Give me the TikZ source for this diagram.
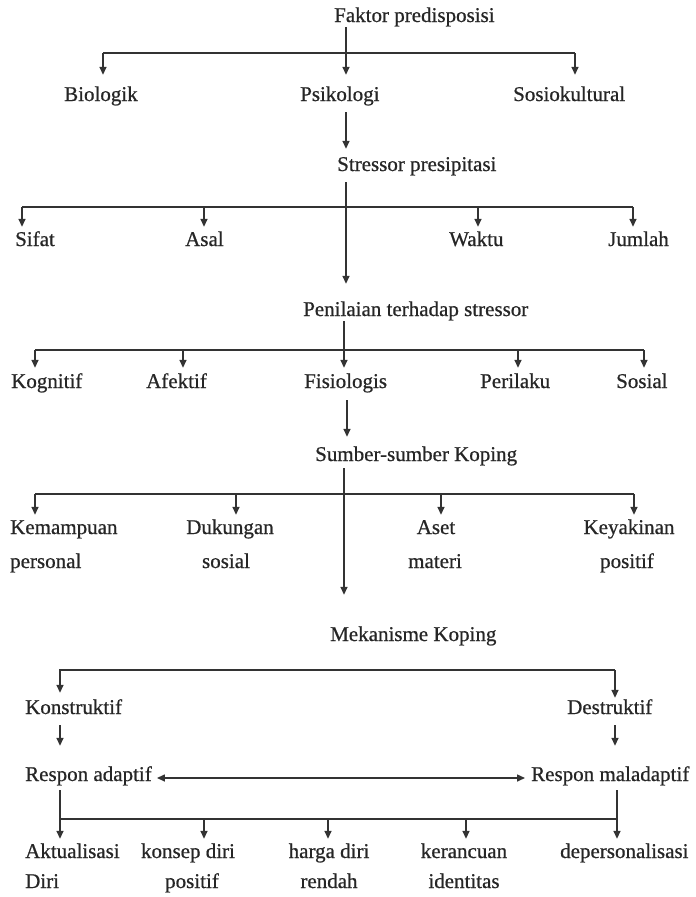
\documentclass[tikz,border=0pt]{standalone}
\usepackage{fontspec}
\setmainfont{Liberation Serif}[FakeBold=0.7]
\usetikzlibrary{arrows.meta}
\tikzset{
  lbl/.style={inner sep=0pt, anchor=base west, font=\fontsize{21}{25}\selectfont, text height=15pt, text depth=5pt, text=black!85},
  lblc/.style={lbl, anchor=base},
  ln/.style={line width=1.5pt, draw=black!80},
  arr/.style={ln, -{Triangle[length=8pt,width=7pt]}},
  darr/.style={ln, {Triangle[length=8pt,width=7pt]}-{Triangle[length=8pt,width=7pt]}},
}
\begin{document}
\begin{tikzpicture}[x=1pt,y=-1pt]
\useasboundingbox (0,0) rectangle (696,897);
% level 1
\node[lbl] (faktor) at (334,22) {Faktor predisposisi};
\node[lbl] (bio) at (64,101) {Biologik};
\node[lbl] (psi) at (300,101) {Psikologi};
\node[lbl] (sos) at (513,101) {Sosiokultural};
\coordinate (b1) at (346,53);
\coordinate (b1l) at (103,53);
\coordinate (b1r) at (575,53);
\draw[ln] (b1l) -- (b1r);
\draw[ln] (faktor.south -| b1) -- (b1);
\draw[arr, shorten >=11pt] (b1l) -- (b1l |- bio.north);
\draw[arr, shorten >=11pt] (b1) -- (b1 |- psi.north);
\draw[arr, shorten >=11pt] (b1r) -- (b1r |- sos.north);
% level 2
\node[lbl] (stres) at (337,171) {Stressor presipitasi};
\draw[arr, shorten <=6pt, shorten >=7pt] (psi.south -| b1) -- (stres.north -| b1);
\node[lbl] (sifat) at (15,246) {Sifat};
\node[lbl] (asal) at (185,246) {Asal};
\node[lbl] (waktu) at (449,246) {Waktu};
\node[lbl] (jumlah) at (608,246) {Jumlah};
\coordinate (b2) at (346,207);
\coordinate (b2a) at (22,207);
\coordinate (b2b) at (204,207);
\coordinate (b2c) at (478,207);
\coordinate (b2d) at (633,207);
\draw[ln] (b2a) -- (b2d);
\draw[arr, shorten >=4pt] (b2a) -- (b2a |- sifat.north);
\draw[arr, shorten >=4pt] (b2b) -- (b2b |- asal.north);
\draw[arr, shorten >=4pt] (b2c) -- (b2c |- waktu.north);
\draw[arr, shorten >=4pt] (b2d) -- (b2d |- jumlah.north);
% level 3
\node[lbl] (pen) at (303,316) {Penilaian terhadap stressor};
\draw[arr, shorten <=6pt, shorten >=17pt] (stres.south -| b2) -- (pen.north -| b2);
\node[lbl] (kog) at (11,388) {Kognitif};
\node[lbl] (afe) at (146,388) {Afektif};
\node[lbl] (fis) at (304,388) {Fisiologis};
\node[lbl] (per) at (480,388) {Perilaku};
\node[lbl] (sosi) at (616,388) {Sosial};
\coordinate (b3) at (344,350);
\coordinate (b3a) at (35,350);
\coordinate (b3b) at (183,350);
\coordinate (b3d) at (518,350);
\coordinate (b3e) at (644,350);
\draw[ln] (b3a) -- (b3e);
\draw[arr, shorten >=5pt] (pen.south -| b3) -- (fis.north -| b3);
\draw[arr, shorten >=5pt] (b3a) -- (b3a |- kog.north);
\draw[arr, shorten >=5pt] (b3b) -- (b3b |- afe.north);
\draw[arr, shorten >=5pt] (b3d) -- (b3d |- per.north);
\draw[arr, shorten >=5pt] (b3e) -- (b3e |- sosi.north);
% level 4
\node[lbl] (sum) at (315,461) {Sumber-sumber Koping};
\coordinate (f4) at (347,400);
\draw[arr, shorten <=7pt, shorten >=9pt] (fis.south -| f4) -- (sum.north -| f4);
\node[lbl] (kem) at (10,534) {Kemampuan};
\node[lbl] (kem2) at (10,568) {personal};
\node[lblc] (duk) at (230,534) {Dukungan};
\node[lblc] (duk2) at (226,568) {sosial};
\node[lblc] (aset) at (436,534) {Aset};
\node[lblc] (aset2) at (435,568) {materi};
\node[lblc] (key) at (629,534) {Keyakinan};
\node[lblc] (key2) at (627,568) {positif};
\node[lbl] (mek) at (330,641) {Mekanisme Koping};
\coordinate (b4) at (344,494);
\coordinate (b4a) at (35,494);
\coordinate (b4b) at (236,494);
\coordinate (b4c) at (441,494);
\coordinate (b4d) at (634,494);
\draw[ln] (b4a) -- (b4d);
\draw[arr, shorten <=2pt, shorten >=31pt] (sum.south -| b4) -- (mek.north -| b4);
\draw[arr, shorten >=4pt] (b4a) -- (b4a |- kem.north);
\draw[arr, shorten >=4pt] (b4b) -- (b4b |- duk.north);
\draw[arr, shorten >=4pt] (b4c) -- (b4c |- aset.north);
\draw[arr, shorten >=4pt] (b4d) -- (b4d |- key.north);
% level 5
\node[lbl] (kon) at (25,714) {Konstruktif};
\node[lbl] (des) at (567,714) {Destruktif};
\coordinate (c5l) at (60,670);
\coordinate (c5r) at (615,670);
\draw[arr, shorten >=6pt] (c5r) -- (c5l) -- (kon.north -| c5l);
\draw[arr, shorten >=1pt] (c5r) -- (des.north -| c5r);
\node[lbl] (respa) at (25,781) {Respon adaptif};
\node[lbl] (resm) at (531,781) {Respon maladaptif};
\coordinate (k5) at (60,725);
\coordinate (d5) at (615,725);
\draw[arr, shorten <=6pt, shorten >=20pt] (kon.south -| k5) -- (respa.north -| k5);
\draw[arr, shorten <=6pt, shorten >=20pt] (des.south -| d5) -- (resm.north -| d5);
\draw[darr, shorten <=5pt, shorten >=6pt] ([yshift=-2pt]respa.east) -- ([yshift=-2pt]respa.east -| resm.west);
% level 6
\node[lbl] (akt) at (25,858) {Aktualisasi};
\node[lbl] (akt2) at (25,888) {Diri};
\node[lblc] (kons) at (188,858) {konsep diri};
\node[lblc] (kons2) at (192,888) {positif};
\node[lblc] (har) at (329,858) {harga diri};
\node[lblc] (har2) at (329,888) {rendah};
\node[lblc] (ker) at (464,858) {kerancuan};
\node[lblc] (ker2) at (464,888) {identitas};
\node[lbl] (dep) at (560,858) {depersonalisasi};
\coordinate (c6l) at (60,819);
\coordinate (c6r) at (617,819);
\coordinate (c6b) at (204,819);
\coordinate (c6c) at (328,819);
\coordinate (c6d) at (466,819);
\draw[ln, shorten <=4pt] (respa.south -| c6l) -- (c6l) -- (c6r);
\draw[ln, shorten <=4pt] (resm.south -| c6r) -- (c6r);
\draw[arr, shorten >=4pt] (c6l) -- (c6l |- akt.north);
\draw[arr, shorten >=4pt] (c6b) -- (c6b |- kons.north);
\draw[arr, shorten >=4pt] (c6c) -- (c6c |- har.north);
\draw[arr, shorten >=4pt] (c6d) -- (c6d |- ker.north);
\draw[arr, shorten >=4pt] (c6r) -- (c6r |- dep.north);
\end{tikzpicture}
\end{document}
